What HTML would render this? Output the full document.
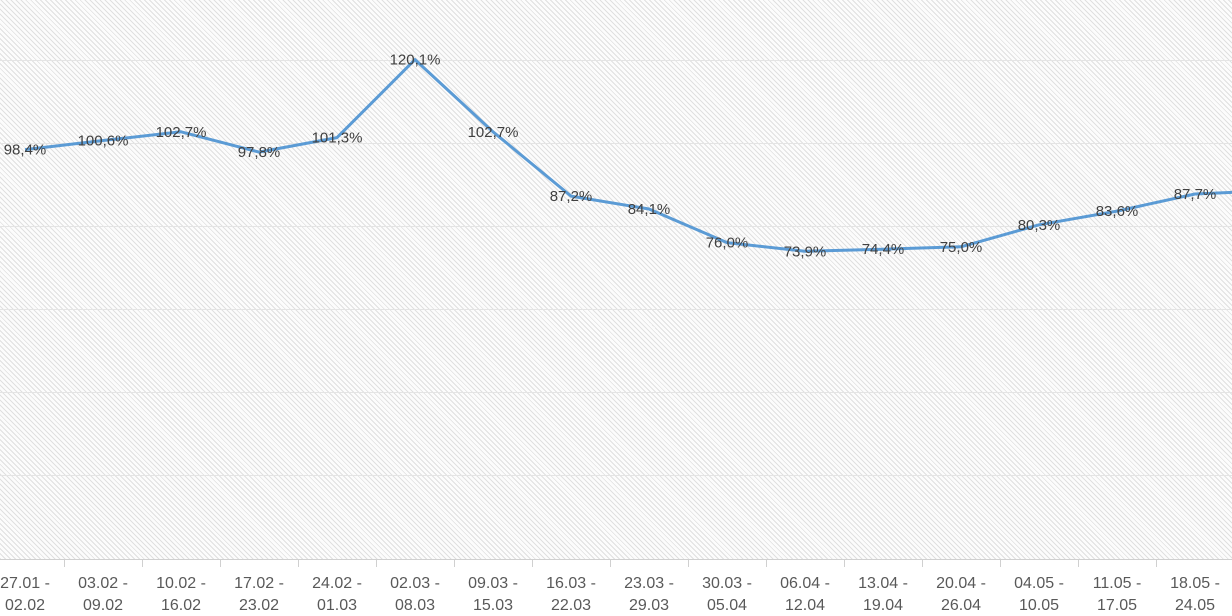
<!DOCTYPE html>
<html><head><meta charset="utf-8"><style>
html,body{margin:0;padding:0;background:#fff;}
.wrap{position:relative;width:1232px;height:616px;overflow:hidden;font-family:"Liberation Sans",sans-serif;}
.plot{position:absolute;left:0;top:0;width:1232px;height:559px;
background:repeating-linear-gradient(45deg,#e0e0e0 0px,#e0e0e0 1px,#fcfcfc 1px,#fcfcfc 3.5px);}
</style></head><body><div class="wrap"><div class="plot"></div>
<svg width="1232" height="616" style="position:absolute;left:0;top:0">
<g stroke="#e4e4e4" stroke-width="1">
<line x1="0" x2="1232" y1="60.5" y2="60.5"/><line x1="0" x2="1232" y1="143.5" y2="143.5"/>
<line x1="0" x2="1232" y1="226.5" y2="226.5"/><line x1="0" x2="1232" y1="309.5" y2="309.5"/>
<line x1="0" x2="1232" y1="392.5" y2="392.5"/><line x1="0" x2="1232" y1="475.5" y2="475.5"/>
</g>
<line x1="0" x2="1232" y1="559.5" y2="559.5" stroke="#d0d0d0"/>
<g stroke="#d0d0d0" id="ticks"></g>
<polyline id="ln" fill="none" stroke="#5b9bd5" stroke-width="3" stroke-linejoin="round"/>
<g id="lbl" font-size="15" fill="#404040" text-anchor="middle"></g>
<g id="xl" font-size="16" fill="#595959" text-anchor="middle"></g>
</svg>
<script>
var v=[98.4,100.6,102.7,97.8,101.3,120.1,102.7,87.2,84.1,76.0,73.9,74.4,75.0,80.3,83.6,87.7,88.5];
var c=[["27.01 -","02.02"],["03.02 -","09.02"],["10.02 -","16.02"],["17.02 -","23.02"],["24.02 -","01.03"],["02.03 -","08.03"],["09.03 -","15.03"],["16.03 -","22.03"],["23.03 -","29.03"],["30.03 -","05.04"],["06.04 -","12.04"],["13.04 -","19.04"],["20.04 -","26.04"],["04.05 -","10.05"],["11.05 -","17.05"],["18.05 -","24.05"],["25.05 -","31.05"]];
var pts=[],L="",X="",T="";
for(var i=0;i<v.length;i++){var x=25+78*i,y=558-v[i]*4.15;pts.push(x+","+y.toFixed(1));
if(i<16)L+='<text x="'+x+'" y="'+(y+5).toFixed(1)+'">'+v[i].toFixed(1).replace(".",",")+'%</text>';
X+='<text x="'+x+'" y="588">'+c[i][0]+'</text><text x="'+x+'" y="610">'+c[i][1]+'</text>';
T+='<line x1="'+(x+39.5)+'" x2="'+(x+39.5)+'" y1="559" y2="567"/>';}
document.getElementById("ln").setAttribute("points",pts.join(" "));
document.getElementById("lbl").innerHTML=L;document.getElementById("xl").innerHTML=X;document.getElementById("ticks").innerHTML=T;
</script></div></body></html>
